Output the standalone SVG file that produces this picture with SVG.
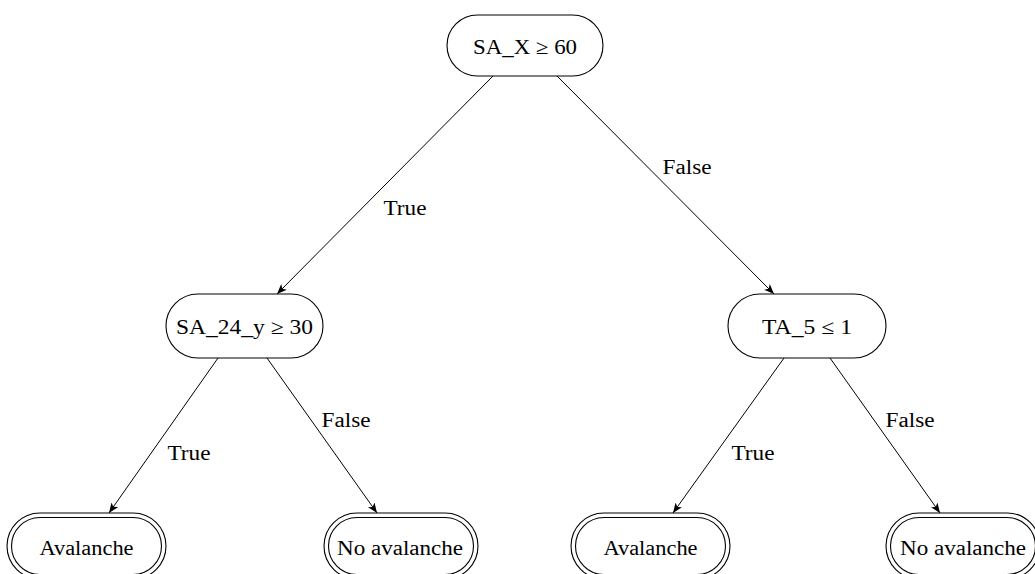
<svg xmlns="http://www.w3.org/2000/svg" width="1035" height="574" viewBox="0 0 1035 574">
<style>
.box{fill:#fff;stroke:#000;stroke-width:1.1}
.t{font-family:"Liberation Serif","DejaVu Serif",serif;font-size:20.5px;fill:#000;text-anchor:middle}
.e{stroke:#000;stroke-width:1;fill:none;marker-end:url(#ah)}
</style>
<defs>
<marker id="ah" viewBox="0 0 10 8" refX="10" refY="4" markerWidth="10" markerHeight="8" markerUnits="userSpaceOnUse" orient="auto">
<path d="M0,0 L10,4 L0,8 L2.5,4 Z" fill="#000"/>
</marker>
</defs>
<rect width="1035" height="574" fill="#fff"/>
<g id="connectors">
<line class="e" x1="493" y1="76" x2="277" y2="294"/>
<line class="e" x1="557" y1="76" x2="774" y2="294"/>
<line class="e" x1="218" y1="358" x2="109" y2="513"/>
<line class="e" x1="267" y1="358" x2="377" y2="513"/>
<line class="e" x1="784" y1="358" x2="673" y2="513"/>
<line class="e" x1="830" y1="358" x2="940" y2="513"/>
<text class="t" x="405" y="215" textLength="43" lengthAdjust="spacingAndGlyphs">True</text>
<text class="t" x="687" y="174" textLength="49" lengthAdjust="spacingAndGlyphs">False</text>
<text class="t" x="189" y="460" textLength="43" lengthAdjust="spacingAndGlyphs">True</text>
<text class="t" x="346" y="427" textLength="49" lengthAdjust="spacingAndGlyphs">False</text>
<text class="t" x="753" y="460" textLength="43" lengthAdjust="spacingAndGlyphs">True</text>
<text class="t" x="910" y="427" textLength="49" lengthAdjust="spacingAndGlyphs">False</text>
</g>
<g id="root">
<rect class="box" x="447" y="15" width="156" height="61" rx="30.5"/>
<text class="t" x="525" y="54" textLength="104" lengthAdjust="spacingAndGlyphs">SA_X ≥ 60</text>
</g>
<g id="mid-left">
<rect class="box" x="166" y="294" width="157" height="64" rx="32"/>
<text class="t" x="244.5" y="334" textLength="137" lengthAdjust="spacingAndGlyphs">SA_24_y ≥ 30</text>
</g>
<g id="mid-right">
<rect class="box" x="728" y="294" width="158" height="64" rx="32"/>
<text class="t" x="807" y="334" textLength="90" lengthAdjust="spacingAndGlyphs">TA_5 ≤ 1</text>
</g>
<g id="leaf1">
<rect class="box" x="7" y="513" width="159" height="66" rx="33"/>
<rect class="box" x="11.5" y="517.5" width="150" height="57" rx="28.5"/>
<text class="t" x="86.5" y="555" textLength="94" lengthAdjust="spacingAndGlyphs">Avalanche</text>
</g>
<g id="leaf2">
<rect class="box" x="324" y="513" width="154" height="66" rx="33"/>
<rect class="box" x="328.5" y="517.5" width="145" height="57" rx="28.5"/>
<text class="t" x="400" y="555" textLength="126" lengthAdjust="spacingAndGlyphs">No avalanche</text>
</g>
<g id="leaf3">
<rect class="box" x="571" y="513" width="159" height="66" rx="33"/>
<rect class="box" x="575.5" y="517.5" width="150" height="57" rx="28.5"/>
<text class="t" x="650.5" y="555" textLength="94" lengthAdjust="spacingAndGlyphs">Avalanche</text>
</g>
<g id="leaf4">
<rect class="box" x="886" y="513" width="154" height="66" rx="33"/>
<rect class="box" x="890.5" y="517.5" width="145" height="57" rx="28.5"/>
<text class="t" x="963" y="555" textLength="126" lengthAdjust="spacingAndGlyphs">No avalanche</text>
</g>
</svg>
